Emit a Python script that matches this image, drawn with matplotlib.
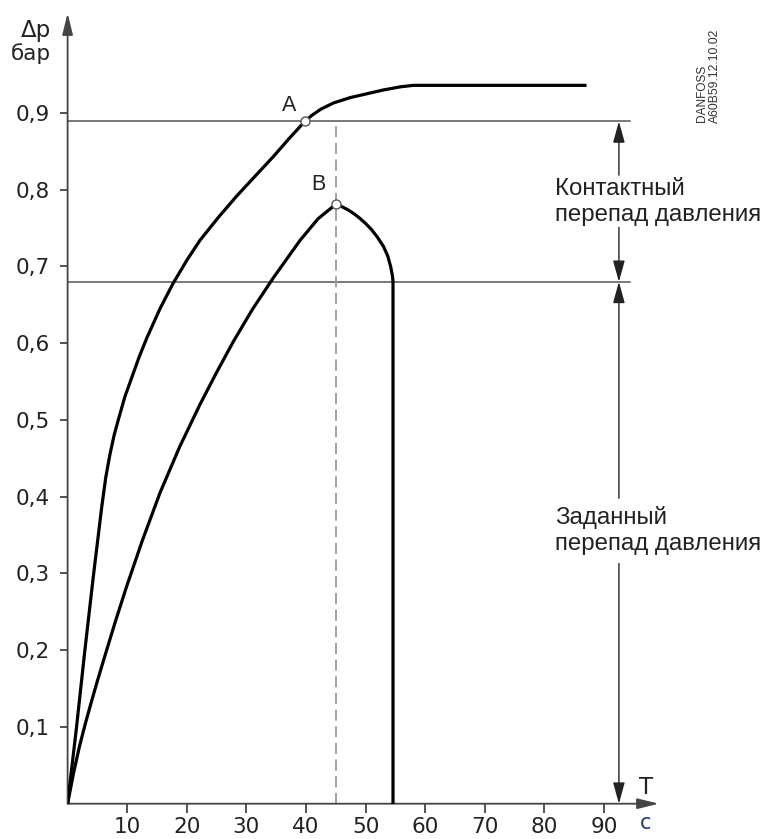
import matplotlib
matplotlib.use("Agg")
import matplotlib.pyplot as plt

plt.rcParams['lines.scale_dashes'] = False

W, H, DPI = 765, 839, 100

# ---- data ----
x_ticks = [10, 20, 30, 40, 50, 60, 70, 80, 90]
x_labels = ["10", "20", "30", "40", "50", "60", "70", "80", "90"]
y_ticks = [0.1, 0.2, 0.3, 0.4, 0.5, 0.6, 0.7, 0.8, 0.9]
y_labels = ["0,1", "0,2", "0,3", "0,4", "0,5", "0,6", "0,7", "0,8", "0,9"]

# curve through point A (time, s ; pressure drop, bar)
t_a = [0, 1.5, 2.9, 4.3, 5.7, 6.4, 7.1, 7.8, 8.5, 9.6, 10.8, 12.0, 13.3, 15.5,
       17.7, 20.0, 22.2, 25.3, 28.4, 31.5, 34.5, 37.2, 39.8, 41.0, 42.5, 44.6,
       47.4, 50.2, 53.0, 55.8, 58.0, 60.0, 70.0, 86.8]
v_a = [0, 0.100, 0.200, 0.295, 0.385, 0.425, 0.455, 0.480, 0.500, 0.530, 0.556,
       0.582, 0.607, 0.645, 0.678, 0.708, 0.734, 0.764, 0.792, 0.818, 0.843,
       0.867, 0.889, 0.897, 0.905, 0.913, 0.920, 0.925, 0.930, 0.934, 0.936,
       0.936, 0.936, 0.936]

# curve through point B
t_b = [0, 1, 2, 3, 4, 5, 6, 8, 9.9, 12.5, 15.5, 18.8, 22.2, 25.0, 27.8, 31.0,
       34.5, 39.0, 42.0, 45.0, 46, 47, 48, 49, 50, 51, 52, 53, 53.7, 54.2,
       54.5, 54.6, 54.6]
v_b = [0, 0.040, 0.075, 0.105, 0.133, 0.160, 0.186, 0.237, 0.283, 0.342, 0.405,
       0.465, 0.520, 0.562, 0.602, 0.644, 0.685, 0.734, 0.762, 0.781, 0.778,
       0.774, 0.769, 0.763, 0.756, 0.748, 0.738, 0.726, 0.714, 0.700, 0.688,
       0.680, 0.0]

contact_level = 0.889
set_level = 0.68
point_a = (39.8, 0.889)
point_b = (45.0, 0.781)

# ---- figure ----
fig = plt.figure(figsize=(W / DPI, H / DPI), dpi=DPI)
fig.patch.set_facecolor("white")
ax = fig.add_axes([67.6 / W, (H - 803.7) / H, 596 / W, 790.5 / H])
ax.set_xlim(0, 100)
ax.set_ylim(0, 1.03)
for s in ax.spines.values():
    s.set_visible(False)
ax.patch.set_alpha(0)

ax.set_xticks(x_ticks)
ax.set_xticklabels(x_labels)
ax.set_yticks(y_ticks)
ax.set_yticklabels(y_labels)
ax.tick_params(axis="x", direction="out", length=6.5, width=1.3, color="#444",
               labelsize=15.5, pad=3, labelcolor="#222")
ax.tick_params(axis="y", direction="out", length=5.5, width=1.3, color="#444",
               labelsize=15.5, pad=7.5, labelcolor="#222")
for lab in ax.get_xticklabels() + ax.get_yticklabels():
    lab.set_family("DejaVu Sans")

# axes with arrows
arrow_ax = dict(arrowstyle="-|>,head_length=1.3,head_width=0.32", color="#444",
                lw=1.3, shrinkA=0, shrinkB=0, mutation_scale=10)
ax.annotate("", xy=(0, 1.03), xytext=(0, 0), arrowprops=arrow_ax, annotation_clip=False)
ax.annotate("", xy=(99.2, 0), xytext=(0, 0), arrowprops=arrow_ax, annotation_clip=False)

# reference levels
ax.plot([0, 94.4], [contact_level, contact_level], color="#555", lw=1.1, zorder=2)
ax.plot([0, 94.4], [set_level, set_level], color="#555", lw=1.1, zorder=2)
ax.plot([point_b[0], point_b[0]], [0, contact_level], color="#9a9a9a", lw=1.3,
        dashes=(8, 4), zorder=2)

# curves
ax.plot(t_a, v_a, color="black", lw=2.3, solid_joinstyle="round", zorder=3)
ax.plot(t_b, v_b, color="black", lw=2.3, solid_joinstyle="round", zorder=3)

# points
ax.plot([point_a[0], point_b[0]], [point_a[1], point_b[1]], "o", ms=6.5,
        mfc="white", mec="#555", mew=1.0, zorder=4)
ax.text(37.1, 0.910, "A", fontsize=15.5, family="Liberation Sans", ha="center",
        va="center", color="#222")
ax.text(42.1, 0.807, "B", fontsize=15.5, family="Liberation Sans", ha="center",
        va="center", color="#222")

# dimension arrows
xa = 92.5
arrow_d = dict(arrowstyle="-|>,head_length=1.3,head_width=0.36", color="#222",
               lw=1.0, shrinkA=0, shrinkB=0, mutation_scale=10)
ax.annotate("", xy=(xa, contact_level), xytext=(xa, 0.819), arrowprops=arrow_d)
ax.annotate("", xy=(xa, set_level), xytext=(xa, 0.751), arrowprops=arrow_d)
ax.annotate("", xy=(xa, set_level), xytext=(xa, 0.398), arrowprops=arrow_d)
ax.annotate("", xy=(xa, 0), xytext=(xa, 0.313), arrowprops=arrow_d,
            annotation_clip=False)


def ftext(px, py, s, **kw):
    fig.text(px / W, 1 - py / H, s, **kw)


txt = dict(fontsize=17.3, family="Liberation Sans", color="#222", ha="left", va="baseline")
ftext(555, 195, "Контактный", **txt)
ftext(555, 221, "перепад давления", **txt)
ftext(555, 524, "Заданный", **txt)
ftext(555, 550, "перепад давления", **txt)

# axis titles
ftext(51, 30, "Δp", fontsize=16.5, family="DejaVu Sans", color="#222", ha="right", va="center")
ftext(51, 54, "бар", fontsize=15.5, family="DejaVu Sans", color="#222", ha="right", va="center")
ftext(646, 788, "T", fontsize=16.5, family="DejaVu Sans", color="#222", ha="center", va="center")
ftext(646, 823, "c", fontsize=15, family="DejaVu Sans", color="#223a7a", ha="center", va="center")

# stamp
ftext(702, 122, "DANFOSS", fontsize=8.6, family="Liberation Sans", color="#333",
      rotation=90, ha="center", va="bottom")
ftext(715, 123, "A60B59.12.10.02", fontsize=8.8, family="Liberation Sans", color="#333",
      rotation=90, ha="center", va="bottom")

fig.savefig("out.png", dpi=DPI)
